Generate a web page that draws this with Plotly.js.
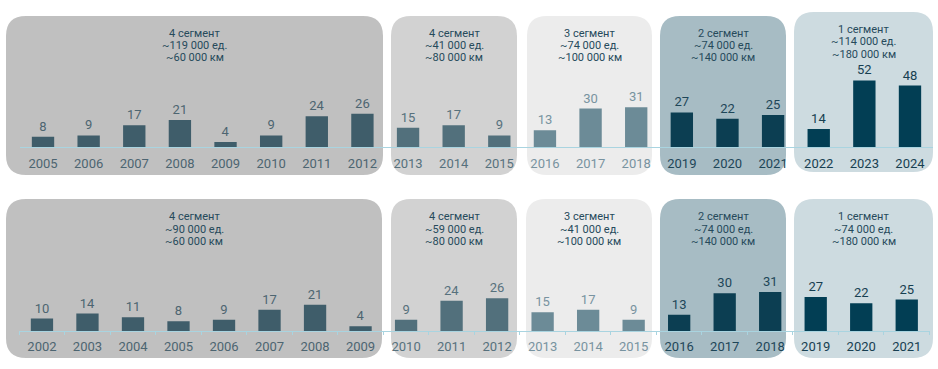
<!DOCTYPE html>
<html>
<head>
<meta charset="utf-8">
<script src="https://cdn.plot.ly/plotly-3.0.1.min.js"></script>
<style>html,body{margin:0;padding:0;background:#fff;}#chart{width:938px;height:369px;}</style>
</head>
<body>
<div id="chart"></div>
<script>
// ---------- DATA ----------
const yearsTop = ['2005','2006','2007','2008','2009','2010','2011','2012','2013','2014','2015','2016','2017','2018','2019','2020','2021','2022','2023','2024'];
const valuesTop = [8,9,17,21,4,9,24,26,15,17,9,13,30,31,27,22,25,14,52,48];
const yearsBottom = ['2002','2003','2004','2005','2006','2007','2008','2009','2010','2011','2012','2013','2014','2015','2016','2017','2018','2019','2020','2021'];
const valuesBottom = [10,14,11,8,9,17,21,4,9,24,26,15,17,9,13,30,31,27,22,25];
const groupSizes = [8,3,3,3,3];
const titlesTop = [
  ['4 сегмент','~119 000 ед.','~60 000 км'],
  ['4 сегмент','~41 000 ед.','~80 000 км'],
  ['3 сегмент','~74 000 ед.','~100 000 км'],
  ['2 сегмент','~74 000 ед.','~140 000 км'],
  ['1 сегмент','~114 000 ед.','~180 000 км']
];
const titlesBottom = [
  ['4 сегмент','~90 000 ед.','~60 000 км'],
  ['4 сегмент','~59 000 ед.','~80 000 км'],
  ['3 сегмент','~41 000 ед.','~100 000 км'],
  ['2 сегмент','~74 000 ед.','~140 000 км'],
  ['1 сегмент','~74 000 ед.','~180 000 км']
];

// ---------- STYLE ----------
const W = 938, H = 369;
const panelBg = ['#c0c0c0','#d2d2d2','#ececec','#a7bcc4','#cddbe0'];
const barCol  = ['#3f5d6a','#52707c','#6c8b97','#0c3e52','#023e54'];
const txtCol  = ['#4d6571','#57717d','#7893a0','#1e4658','#173f51'];
const titleCol = '#264a5b';
const lineCol = '#a9d4e0';
const fontFam = 'Roboto, "Noto Sans", sans-serif';

// panel rectangles in pixels [x0,x1,y0,y1]
const panelsTop = [[6,383,16,175],[391,517,16,175],[527,652,16,175],[660,786,16,175],[794,933,12,172]];
const panelsBot = [[6,382,199,358],[391,517,199,358],[526,652,199,358],[660,786,199,358],[794,933,199,358]];
const titleLinesTop = [[33.3,45.7,58],[33.3,45.7,58],[33.3,45.7,58],[33.3,45.7,58],[29.5,42,54.5]];
const titleLinesBot = [[216,229,241.7],[216,229,241.7],[216,229,241.7],[216,229,241.7],[216,229,241.7]];

function groupIndexArray(n){
  const out=[]; groupSizes.forEach((s,g)=>{for(let i=0;i<s;i++) out.push(g);}); return out.slice(0,n);
}
const gi = groupIndexArray(20);

const fx = px => px / W;
const fy = py => 1 - py / H;

function roundRect(p, r){
  const [x0,x1,y0,y1] = p;
  const pts = (x,y)=> fx(x).toFixed(5)+','+fy(y).toFixed(5);
  return 'M'+pts(x0+r,y0)+' L'+pts(x1-r,y0)+' Q'+pts(x1,y0)+' '+pts(x1,y0+r)+
         ' L'+pts(x1,y1-r)+' Q'+pts(x1,y1)+' '+pts(x1-r,y1)+
         ' L'+pts(x0+r,y1)+' Q'+pts(x0,y1)+' '+pts(x0,y1-r)+
         ' L'+pts(x0,y0+r)+' Q'+pts(x0,y0)+' '+pts(x0+r,y0)+' Z';
}

const shapes = [];
panelsTop.concat(panelsBot).forEach((p,k)=>{
  shapes.push({type:'path', xref:'paper', yref:'paper', path: roundRect(p,20),
    fillcolor: panelBg[k%5], line:{width:0}, layer:'below'});
});

const annotations = [];
function addTitles(titles, lines, panels){
  titles.forEach((t,k)=>{
    const cx = fx((panels[k][0]+panels[k][1])/2);
    t.forEach((txt,j)=>{
      annotations.push({xref:'paper', yref:'paper', x:cx, y:fy(lines[k][j]),
        xanchor:'center', yanchor:'middle', showarrow:false, text:txt,
        font:{family:fontFam, size:11, color:titleCol}});
    });
  });
}
addTitles(titlesTop, titleLinesTop, panelsTop);
addTitles(titlesBottom, titleLinesBot, panelsBot);

function tickTexts(years){
  return years.map((y,i)=>'<span style="color:'+txtCol[gi[i]]+'">'+y+'</span>');
}

const traces = [
  {type:'bar', x:yearsTop, y:valuesTop, xaxis:'x', yaxis:'y', width:0.49,
   marker:{color: gi.map(g=>barCol[g])},
   text: valuesTop.map(String), textposition:'outside', cliponaxis:false,
   textfont:{family:fontFam, size:13, color: gi.map(g=>txtCol[g])}, hoverinfo:'none'},
  {type:'bar', x:yearsBottom, y:valuesBottom, xaxis:'x2', yaxis:'y2', width:0.49,
   marker:{color: gi.map(g=>barCol[g])},
   text: valuesBottom.map(String), textposition:'outside', cliponaxis:false,
   textfont:{family:fontFam, size:13, color: gi.map(g=>txtCol[g])}, hoverinfo:'none'}
];

const R = 60;
const layout = {
  width:W, height:H, autosize:false,
  margin:{l:0,r:0,t:0,b:0,pad:0},
  paper_bgcolor:'#ffffff', plot_bgcolor:'rgba(0,0,0,0)',
  showlegend:false, bargap:0.5,
  font:{family:fontFam},
  xaxis:{domain:[fx(20.2), fx(932.8)], anchor:'y', type:'category',
    tickvals: yearsTop, ticktext: tickTexts(yearsTop),
    showline:true, linecolor:lineCol, linewidth:1, ticks:'', showgrid:false, zeroline:false,
    ticklabelstandoff:4,
    tickfont:{family:fontFam, size:13}, fixedrange:true},
  yaxis:{domain:[fy(147), fy(147-1.28*R)], anchor:'x', range:[0,R], visible:false, fixedrange:true},
  xaxis2:{domain:[fx(19.2), fx(929.5)], anchor:'y2', type:'category',
    tickvals: yearsBottom, ticktext: tickTexts(yearsBottom),
    showline:true, linecolor:lineCol, linewidth:1, ticks:'outside', ticklen:3, tickcolor:lineCol, tickwidth:1,
    tickson:'boundaries', showgrid:false, zeroline:false,
    ticklabelstandoff:3,
    tickfont:{family:fontFam, size:13}, fixedrange:true},
  yaxis2:{domain:[fy(331.3), fy(331.3-1.27*R)], anchor:'x2', range:[0,R], visible:false, fixedrange:true},
  shapes: shapes,
  annotations: annotations
};

Plotly.newPlot('chart', traces, layout, {displayModeBar:false, staticPlot:true});
</script>
</body>
</html>
